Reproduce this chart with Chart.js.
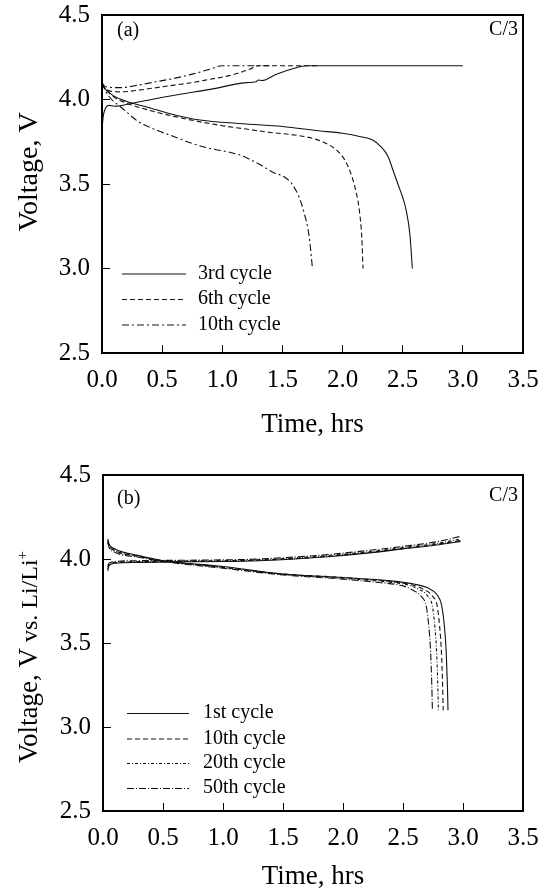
<!DOCTYPE html>
<html>
<head>
<meta charset="utf-8">
<script src="https://cdn.jsdelivr.net/npm/chart.js@4.4.0/dist/chart.umd.min.js"></script>
<style>
  html, body { margin: 0; padding: 0; background: #fff; }
  canvas { display: block; }
</style>
</head>
<body>
<canvas id="chartA" width="545" height="445"></canvas>
<canvas id="chartB" width="545" height="446"></canvas>
<script>
// axis ticks (both panels)
var xTicks = [0, 0.5, 1.0, 1.5, 2.0, 2.5, 3.0, 3.5];
var yTicks = [2.5, 3.0, 3.5, 4.0, 4.5];

// panel (a): time (hrs) / voltage (V)
var c3ChargeT = [0, 0.01, 0.03, 0.06, 0.1, 0.3, 0.6, 0.9, 1.2, 1.28, 1.3, 1.33, 1.45, 1.6, 1.7, 3.0];
var c3ChargeV = [3.82, 3.9, 3.95, 3.965, 3.96, 3.985, 4.025, 4.06, 4.1, 4.105, 4.115, 4.112, 4.15, 4.185, 4.2, 4.2];
var c3DischT = [0, 0.03, 0.1, 0.2, 0.4, 0.6, 0.8, 1.0, 1.2, 1.5, 1.8, 2.0, 2.15, 2.25, 2.32, 2.38, 2.42, 2.46, 2.5, 2.53, 2.56, 2.58];
var c3DischV = [4.09, 4.06, 4.02, 3.99, 3.95, 3.91, 3.88, 3.865, 3.855, 3.84, 3.815, 3.8, 3.78, 3.76, 3.72, 3.66, 3.58, 3.5, 3.42, 3.34, 3.2, 3.0];

var c6ChargeT = [0, 0.03, 0.15, 0.3, 0.45, 0.6, 0.75, 0.9, 1.05, 1.15, 1.23, 1.3, 1.8];
var c6ChargeV = [4.09, 4.06, 4.045, 4.055, 4.07, 4.085, 4.1, 4.12, 4.14, 4.16, 4.18, 4.2, 4.2];
var c6DischT = [0, 0.03, 0.1, 0.2, 0.4, 0.6, 0.8, 1.0, 1.2, 1.4, 1.6, 1.75, 1.85, 1.95, 2.02, 2.07, 2.11, 2.14, 2.16, 2.17];
var c6DischV = [4.09, 4.06, 4.015, 3.98, 3.935, 3.9, 3.87, 3.845, 3.825, 3.805, 3.79, 3.77, 3.745, 3.7, 3.64, 3.56, 3.46, 3.34, 3.18, 3.0];

var c10ChargeT = [0, 0.03, 0.15, 0.3, 0.45, 0.6, 0.75, 0.9, 1.0, 1.4];
var c10ChargeV = [4.1, 4.075, 4.07, 4.085, 4.105, 4.125, 4.15, 4.18, 4.2, 4.2];
var c10DischT = [0, 0.03, 0.08, 0.15, 0.3, 0.45, 0.6, 0.75, 0.9, 1.05, 1.15, 1.3, 1.42, 1.52, 1.58, 1.64, 1.68, 1.72, 1.75];
var c10DischV = [4.1, 4.05, 4.0, 3.96, 3.87, 3.82, 3.78, 3.74, 3.71, 3.69, 3.67, 3.62, 3.57, 3.54, 3.5, 3.42, 3.33, 3.2, 3.0];

// panel (b): time (hrs) / voltage vs. Li/Li+
var chargeT_b = [0.04, 0.05, 0.1, 0.3, 0.6, 1.0, 1.3, 1.6, 1.9, 2.2, 2.5, 2.8, 2.98];
var b1ChargeV = [3.93, 3.96, 3.975, 3.98, 3.983, 3.985, 3.99, 4.0, 4.015, 4.035, 4.06, 4.085, 4.105];
var b10ChargeV = [3.94, 3.965, 3.978, 3.982, 3.985, 3.988, 3.993, 4.003, 4.018, 4.038, 4.063, 4.09, 4.11];
var b20ChargeV = [3.95, 3.97, 3.98, 3.985, 3.988, 3.99, 3.996, 4.006, 4.022, 4.042, 4.068, 4.095, 4.12];
var b50ChargeV = [3.96, 3.975, 3.985, 3.99, 3.992, 3.995, 4.0, 4.012, 4.028, 4.05, 4.075, 4.105, 4.135];

var b1DischT = [0.04, 0.05, 0.1, 0.3, 0.5, 1.0, 1.5, 2.0, 2.4, 2.6, 2.7, 2.78, 2.82, 2.845, 2.86, 2.87, 2.875];
var b1DischV = [4.12, 4.09, 4.06, 4.02, 3.99, 3.955, 3.91, 3.89, 3.87, 3.85, 3.83, 3.79, 3.73, 3.6, 3.45, 3.25, 3.1];
var b10DischT = [0.04, 0.05, 0.1, 0.3, 0.5, 1.0, 1.5, 2.0, 2.4, 2.58, 2.67, 2.745, 2.785, 2.805, 2.82, 2.83, 2.835];
var b10DischV = [4.11, 4.08, 4.05, 4.015, 3.99, 3.95, 3.91, 3.89, 3.865, 3.845, 3.82, 3.78, 3.72, 3.6, 3.45, 3.25, 3.1];
var b20DischT = [0.04, 0.05, 0.1, 0.3, 0.5, 1.0, 1.5, 2.0, 2.35, 2.54, 2.63, 2.705, 2.745, 2.765, 2.78, 2.79, 2.795];
var b20DischV = [4.1, 4.08, 4.05, 4.015, 3.99, 3.95, 3.91, 3.885, 3.865, 3.845, 3.82, 3.78, 3.72, 3.6, 3.45, 3.25, 3.1];
var b50DischT = [0.04, 0.05, 0.1, 0.3, 0.5, 1.0, 1.5, 2.0, 2.3, 2.5, 2.58, 2.655, 2.695, 2.715, 2.73, 2.74, 2.745];
var b50DischV = [4.1, 4.07, 4.04, 4.01, 3.985, 3.945, 3.905, 3.88, 3.86, 3.84, 3.815, 3.775, 3.715, 3.6, 3.45, 3.25, 3.1];

var legendA = ["3rd cycle", "6th cycle", "10th cycle"];
var legendB = ["1st cycle", "10th cycle", "20th cycle", "50th cycle"];

var serif = "'Liberation Serif', 'Times New Roman', serif";
var SOLID = [], DASH = [5, 3], DASHDOT = [7, 3, 2, 3], FINEDOT = [3, 2, 1, 2], LONGDOT = [7, 2, 1, 2];

function curve(t, v, dash) {
  return {
    data: t.map(function (x, i) { return { x: x, y: v[i] }; }),
    borderColor: "#111",
    borderWidth: 1.1,
    borderDash: dash,
    pointRadius: 0,
    fill: false,
    cubicInterpolationMode: "monotone"
  };
}

function scales(cfg) {
  return {
    x: {
      type: "linear", min: 0, max: 3.5,
      afterBuildTicks: function (s) { s.ticks = xTicks.map(function (v) { return { value: v }; }); },
      afterFit: function (s) { s.height = cfg.xAxisH; s.paddingLeft = 0; s.paddingRight = 0; },
      ticks: {
        callback: function (v) { return v.toFixed(1); },
        font: { family: serif, size: 25 }, color: "#000",
        padding: 20, maxRotation: 0, autoSkip: false
      },
      grid: { drawOnChartArea: false, drawTicks: true, tickLength: -8, color: "#000", lineWidth: 1 },
      border: { display: false },
      title: {
        display: true, text: "Time, hrs", color: "#000",
        font: { family: serif, size: 27, lineHeight: 1 },
        padding: { top: 0, bottom: cfg.xTitlePad }
      }
    },
    y: {
      type: "linear", min: 2.5, max: 4.5,
      afterBuildTicks: function (s) { s.ticks = yTicks.map(function (v) { return { value: v }; }); },
      afterFit: function (s) { s.width = cfg.yAxisW; s.paddingTop = 0; s.paddingBottom = 0; },
      ticks: {
        callback: function (v) { return v.toFixed(1); },
        font: { family: serif, size: 25 }, color: "#000", padding: 20
      },
      grid: { drawOnChartArea: false, drawTicks: true, tickLength: -8, color: "#000", lineWidth: 1 },
      border: { display: false },
      title: { display: false }
    }
  };
}

// frame, panel tag, rate, legend and the rotated y title
function panelPlugin(cfg) {
  return {
    id: "panel",
    afterDraw: function (chart) {
      var ctx = chart.ctx, a = chart.chartArea;
      ctx.save();
      ctx.strokeStyle = "#000";
      ctx.lineWidth = 2;
      ctx.strokeRect(a.left, a.top, a.right - a.left, a.bottom - a.top);

      ctx.fillStyle = "#000";
      ctx.textBaseline = "middle";
      ctx.font = "20px " + serif;
      ctx.textAlign = "left";
      ctx.fillText(cfg.tag, cfg.tagX, cfg.tagY);
      ctx.textAlign = "right";
      ctx.fillText("C/3", cfg.rateX, cfg.rateY);

      ctx.textAlign = "left";
      ctx.strokeStyle = "#111";
      ctx.lineWidth = 1.1;
      cfg.legend.forEach(function (name, i) {
        var y = cfg.legendY[i];
        ctx.beginPath();
        ctx.setLineDash(cfg.dashes[i]);
        ctx.moveTo(cfg.sampleX0, y + 0.5);
        ctx.lineTo(cfg.sampleX1, y + 0.5);
        ctx.stroke();
        ctx.setLineDash([]);
        ctx.fillText(name, cfg.textX, y);
      });

      // y title: parts of [text, font size, baseline shift]
      var parts = cfg.titleParts, widths = [], total = 0;
      parts.forEach(function (p) {
        ctx.font = p[1] + "px " + serif;
        var w = ctx.measureText(p[0]).width;
        widths.push(w); total += w;
      });
      ctx.translate(cfg.titleX, cfg.titleY);
      ctx.rotate(-Math.PI / 2);
      ctx.textBaseline = "alphabetic";
      var x = -total / 2;
      parts.forEach(function (p, i) {
        ctx.font = p[1] + "px " + serif;
        ctx.fillText(p[0], x, 9 + p[2]);
        x += widths[i];
      });
      ctx.restore();
    }
  };
}

var dataA = [
  curve(c3ChargeT, c3ChargeV, SOLID), curve(c3DischT, c3DischV, SOLID),
  curve(c6ChargeT, c6ChargeV, DASH), curve(c6DischT, c6DischV, DASH),
  curve(c10ChargeT, c10ChargeV, DASHDOT), curve(c10DischT, c10DischV, DASHDOT)
];

var dataB = [
  curve(chargeT_b, b1ChargeV, SOLID), curve(b1DischT, b1DischV, SOLID),
  curve(chargeT_b, b10ChargeV, DASH), curve(b10DischT, b10DischV, DASH),
  curve(chargeT_b, b20ChargeV, FINEDOT), curve(b20DischT, b20DischV, FINEDOT),
  curve(chargeT_b, b50ChargeV, LONGDOT), curve(b50DischT, b50DischV, LONGDOT)
];

new Chart(document.getElementById("chartA").getContext("2d"), {
  type: "line",
  data: { datasets: dataA },
  options: {
    responsive: false, animation: false, devicePixelRatio: 1,
    layout: { padding: { top: 15, right: 22, bottom: 0, left: 0 } },
    plugins: { legend: { display: false }, tooltip: { enabled: false } },
    scales: scales({ xAxisH: 92, yAxisW: 102, xTitlePad: 6.5 })
  },
  plugins: [panelPlugin({
    tag: "(a)", tagX: 117, tagY: 31, rateX: 518, rateY: 30,
    legend: legendA, legendY: [273.5, 299, 324.5], dashes: [SOLID, DASH, DASHDOT],
    sampleX0: 122, sampleX1: 186, textX: 198,
    titleParts: [["Voltage, V", 28, 0]], titleX: 28, titleY: 172
  })]
});

new Chart(document.getElementById("chartB").getContext("2d"), {
  type: "line",
  data: { datasets: dataB },
  options: {
    responsive: false, animation: false, devicePixelRatio: 1,
    layout: { padding: { top: 30, right: 22, bottom: 0, left: 0 } },
    plugins: { legend: { display: false }, tooltip: { enabled: false } },
    scales: scales({ xAxisH: 80, yAxisW: 103, xTitlePad: 0.5 })
  },
  plugins: [panelPlugin({
    tag: "(b)", tagX: 117, tagY: 54, rateX: 518, rateY: 51,
    legend: legendB, legendY: [268, 293.5, 318, 343], dashes: [SOLID, DASH, FINEDOT, LONGDOT],
    sampleX0: 127, sampleX1: 189, textX: 203,
    titleParts: [["Voltage, V", 27, 0], [" vs. Li/Li", 24, 0], ["+", 15, -10]],
    titleX: 28, titleY: 212
  })]
});
</script>
</body>
</html>
